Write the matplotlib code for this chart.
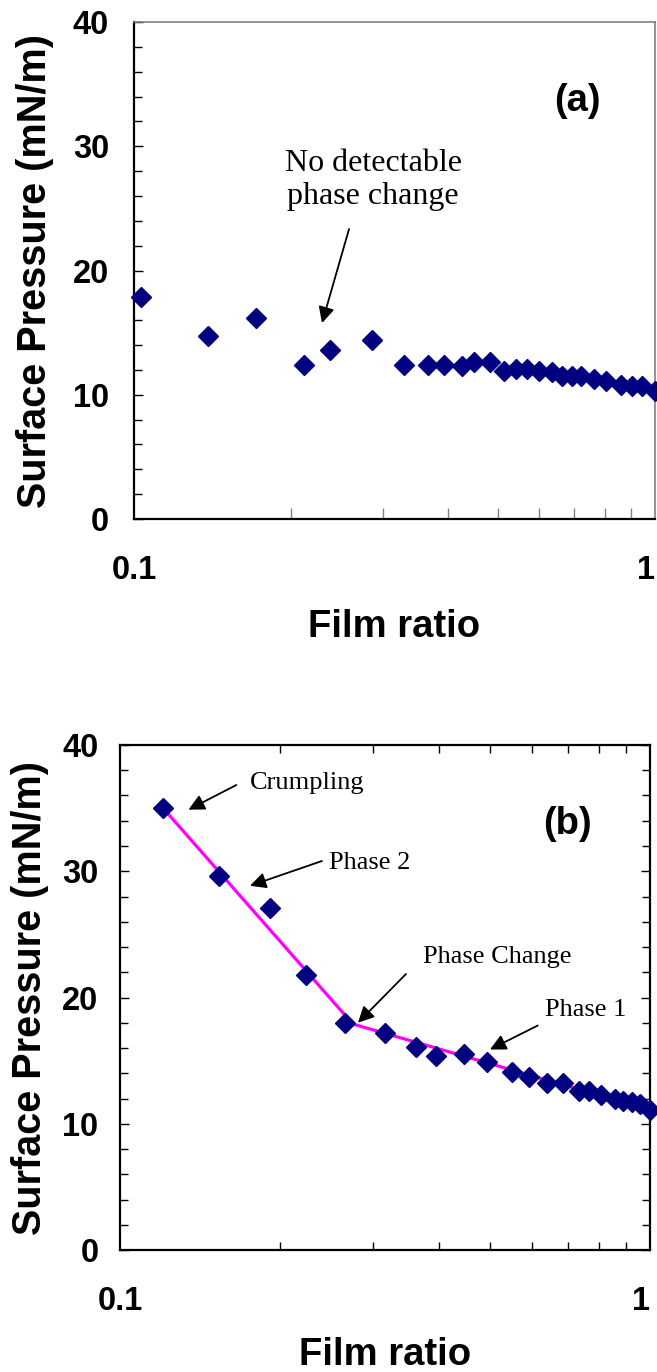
import numpy as np
import matplotlib
matplotlib.use("Agg")
import matplotlib.pyplot as plt
from matplotlib.ticker import MultipleLocator, FixedLocator, FixedFormatter

# panel (a) data
ratio_a = [0.1032, 0.1387, 0.1712, 0.2119, 0.2374, 0.2858, 0.3297, 0.3659, 0.393,
           0.4258, 0.449, 0.482, 0.512, 0.540, 0.567, 0.600, 0.635, 0.664, 0.693,
           0.720, 0.765, 0.804, 0.861, 0.903, 0.946, 1.0]
press_a = [17.9, 14.7, 16.2, 12.4, 13.6, 14.4, 12.4, 12.4, 12.4,
           12.3, 12.6, 12.6, 11.9, 12.1, 12.1, 11.9, 11.8, 11.5, 11.5,
           11.5, 11.3, 11.1, 10.8, 10.7, 10.7, 10.3]

# panel (b) data
ratio_b = [0.1206, 0.154, 0.1917, 0.2244, 0.266, 0.316, 0.362, 0.394, 0.445,
           0.492, 0.549, 0.592, 0.639, 0.684, 0.734, 0.768, 0.809, 0.859,
           0.888, 0.925, 0.957, 1.0]
press_b = [35.0, 29.6, 27.1, 21.8, 18.0, 17.2, 16.1, 15.4, 15.5,
           14.9, 14.1, 13.7, 13.2, 13.2, 12.6, 12.6, 12.3, 12.0,
           11.8, 11.7, 11.6, 11.1]

# fitted two-phase line
fit_x = [0.1206, 0.275, 1.0]
fit_y = [35.0, 17.9, 11.1]

sans = "Liberation Sans"
serif = "Liberation Serif"
navy = "#000080"

fig = plt.figure(figsize=(6.57, 13.72), dpi=100)
ax1 = fig.add_axes([0.204, 0.6217, 0.793, 0.3622])
ax2 = fig.add_axes([0.1826, 0.0889, 0.8067, 0.3681])


def style_axis(ax, mirror, ypad, xpad):
    ax.set_xscale("log")
    ax.set_xlim(0.1, 1)
    ax.set_ylim(0, 40)
    ax.xaxis.set_major_locator(FixedLocator([0.1, 1]))
    ax.xaxis.set_major_formatter(FixedFormatter(["0.1", "1"]))
    ax.xaxis.set_minor_locator(FixedLocator([0.2, 0.3, 0.4, 0.5, 0.6, 0.7, 0.8, 0.9]))
    ax.xaxis.set_minor_formatter(FixedFormatter([]))
    ax.yaxis.set_major_locator(MultipleLocator(10))
    ax.yaxis.set_minor_locator(MultipleLocator(2))
    ax.tick_params(axis="x", which="both", direction="in", top=mirror, pad=xpad)
    ax.tick_params(axis="y", which="both", direction="in", right=mirror, pad=ypad)
    ax.tick_params(which="major", length=6.5, width=1)
    ax.tick_params(which="minor", length=6, width=1)
    ax.tick_params(axis="x", which="major", length=0)
    for lab in ax.get_xticklabels() + ax.get_yticklabels():
        lab.set_family(sans)
        lab.set_fontweight("bold")
        lab.set_fontsize(23.5)
    # keep the "1" inside the figure
    ax.get_xticklabels()[-1].set_ha("right")
    ax.set_xlabel("Film ratio", family=sans, fontweight="bold", fontsize=27.5)
    ax.set_ylabel("Surface Pressure (mN/m)", family=sans, fontweight="bold", fontsize=28.5)
    ax.xaxis.label.set_va("center")
    ax.yaxis.label.set_va("center")


style_axis(ax1, False, 18, 26)
style_axis(ax2, True, 15.5, 26)
ax1.xaxis.set_label_coords(0.5, -0.217)
ax1.yaxis.set_label_coords(-0.19, 0.5)
ax2.xaxis.set_label_coords(0.5, -0.208)
ax2.yaxis.set_label_coords(-0.17, 0.5)

# panel (a) frame: grey top/right, grey x ticks
for s in ["top", "right"]:
    ax1.spines[s].set_color("#808080")
    ax1.spines[s].set_linewidth(1.2)
for s in ["left", "bottom"]:
    ax1.spines[s].set_linewidth(1.6)
ax1.tick_params(axis="x", which="minor", color="#808080", length=8)
for s in ax2.spines.values():
    s.set_linewidth(1.6)

ax1.plot(ratio_a, press_a, linestyle="none", marker="D", markersize=10,
         color=navy, clip_on=False, zorder=3)
ax2.plot(fit_x, fit_y, color="#FF00FF", lw=2.3, zorder=2)
ax2.plot(ratio_b, press_b, linestyle="none", marker="D", markersize=10,
         color=navy, clip_on=False, zorder=3)

arrow = dict(arrowstyle="-|>", color="black", lw=1.3, mutation_scale=24,
             shrinkA=0, shrinkB=0)

ax1.text(0.850, 0.841, "(a)", transform=ax1.transAxes, ha="center", va="center",
         family=sans, fontweight="bold", fontsize=27.5)
ax1.text(0.459, 0.682, "No detectable\nphase change", transform=ax1.transAxes,
         ha="center", va="center", family=serif, fontsize=23, linespacing=1.2)
ax1.annotate("", xy=(0.3608, 0.3944), xytext=(0.4127, 0.5835),
             xycoords="axes fraction", textcoords="axes fraction", arrowprops=arrow)

ax2.text(0.845, 0.8436, "(b)", transform=ax2.transAxes, ha="center", va="center",
         family=sans, fontweight="bold", fontsize=27.5)
notes = [("Crumpling", (0.2453, 0.9248), (0.2196, 0.9208), (0.1292, 0.8719)),
         ("Phase 2", (0.3943, 0.7667), (0.3811, 0.7703), (0.2453, 0.7212)),
         ("Phase Change", (0.5717, 0.5802), (0.5396, 0.5465), (0.4491, 0.4501)),
         ("Phase 1", (0.8013, 0.4752), (0.7883, 0.4446), (0.6981, 0.3970))]
for txt, tpos, tail, tip in notes:
    ax2.text(tpos[0], tpos[1], txt, transform=ax2.transAxes, ha="left", va="center",
             family=serif, fontsize=19)
    ax2.annotate("", xy=tip, xytext=tail, xycoords="axes fraction",
                 textcoords="axes fraction", arrowprops=arrow)

fig.savefig("out.png", dpi=100)
